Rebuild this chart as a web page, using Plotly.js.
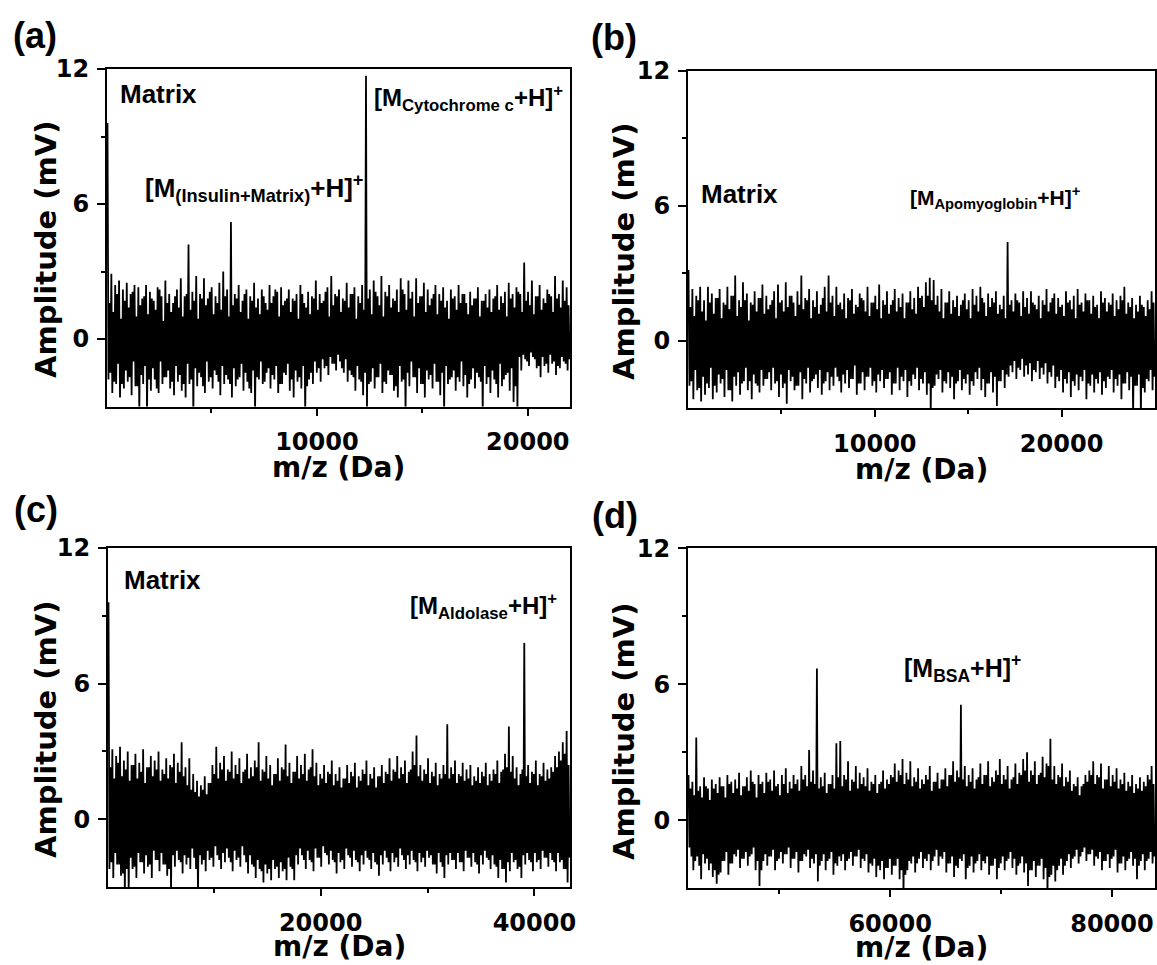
<!DOCTYPE html>
<html>
<head>
<meta charset="utf-8">
<script src="https://cdn.plot.ly/plotly-3.0.1.min.js"></script>
<style>html,body{margin:0;padding:0;background:#fff;}#chart{width:1157px;height:965px;}</style>
</head>
<body>
<div id="chart"></div>
<script>
// ---------- data ----------
// m/z axis ranges (Da)
const rangeA = [50, 22000];
const rangeB = [0, 25000];
const rangeC = [100, 43330];
const rangeD = [41770, 83880];
const yRange = [-3, 12];

// tick values & labels
const ticksA = [10000, 20000], minorA = [5000, 15000];
const ticksB = [10000, 20000], minorB = [5000, 15000];
const ticksC = [20000, 40000], minorC = [10000, 30000];
const ticksD = [60000, 80000], minorD = [50000, 70000];
const yTicks = [0, 6, 12], yMinor = [3, 9];

// spectrum (a): main maxima / minima and the smaller in-between maxima / minima (mV)
const hiA = [9.6,2.9,2.4,2.6,2.2,2.5,2.0,2.4,2.3,1.8,2.4,2.1,1.7,2.3,1.9,2.6,2.0,1.6,2.2,2.7,1.9,4.2,2.1,2.8,2.0,2.7,1.8,2.3,1.9,2.5,
 3.0,2.2,5.2,2.0,2.4,1.7,2.2,1.9,2.5,1.8,2.2,1.6,2.4,1.9,2.1,2.3,1.7,2.2,1.8,2.0,2.4,1.6,2.1,1.9,2.6,2.0,1.7,2.3,2.8,2.0,
 2.2,1.8,2.5,2.0,2.3,1.9,2.4,11.7,2.2,2.6,1.9,2.8,2.1,2.4,1.8,2.2,2.7,2.0,2.6,2.1,2.7,1.9,2.5,2.2,1.8,2.4,2.0,2.3,1.7,2.2,
 1.9,2.4,2.0,1.6,2.1,1.8,2.3,1.7,2.0,2.2,1.8,2.4,1.9,2.1,2.5,2.0,2.3,2.0,3.4,2.1,2.6,1.9,2.4,1.8,2.2,1.9,2.8,2.0,2.6,2.3];
const loA = [-1.8,-2.4,-2.0,-2.6,-2.2,-1.9,-2.5,-2.1,-3.3,-2.0,-3.3,-2.3,-1.8,-2.4,-2.0,-1.7,-2.2,-2.5,-1.9,-2.3,-2.6,-2.0,-3.3,-2.1,-1.7,-2.4,-1.9,-2.2,-1.6,-2.5,
 -2.0,-1.8,-2.6,-2.1,-1.7,-2.3,-1.9,-2.4,-3.3,-1.8,-2.0,-1.5,-2.2,-1.8,-2.4,-2.0,-1.6,-2.3,-2.6,-1.9,-2.2,-3.3,-1.8,-2.0,-1.5,-1.9,-1.3,-1.6,-1.1,-1.4,
 -1.0,-1.5,-1.9,-1.6,-2.3,-1.8,-2.5,-3.2,-1.9,-2.2,-1.7,-2.4,-2.0,-1.6,-2.3,-2.6,-1.9,-3.3,-2.1,-1.7,-2.4,-2.0,-2.6,-1.8,-2.2,-1.9,-2.5,-3.3,-2.0,-1.7,
 -2.3,-1.9,-2.1,-2.6,-1.8,-2.2,-1.7,-3.3,-2.0,-2.4,-1.8,-2.6,-2.1,-1.6,-2.3,-2.8,-3.2,-1.4,-0.9,-1.2,-0.8,-1.3,-1.7,-1.2,-1.5,-1.1,-1.6,-1.3,-1.0,-1.4];
const hi2A = [1.6,1.2,2.0,0.9,1.7,1.4,2.1,1.0,1.5,1.9,1.1,1.8,1.3,2.2,0.8,1.6,1.2,1.9,1.4,1.0,2.0,1.3,1.7,0.9,1.8,1.5,2.1,1.1,1.6,1.3,
 1.9,1.0,1.5,1.8,1.2,2.0,0.9,1.7,1.4,1.1,1.9,1.3,1.6,2.2,1.0,1.5,1.8,1.2,1.7,0.9,2.0,1.4,1.1,1.8,1.3,1.6,2.1,1.0,1.5,1.9,
 1.2,1.7,1.4,2.0,0.9,1.6,1.3,1.8,1.1,2.1,1.5,1.0,1.9,1.4,1.7,1.2,2.2,1.3,1.8,1.0,1.6,1.9,1.2,1.5,2.0,1.1,1.7,1.4,0.9,1.8,
 1.3,1.6,2.0,1.1,1.5,1.8,1.0,1.7,1.4,1.2,1.9,1.3,1.6,1.0,1.8,1.4,2.1,1.2,1.7,1.5,1.1,1.9,1.3,1.6,2.0,1.2,1.8,1.4,1.7,1.5];
const lo2A = [-1.5,-1.9,-1.1,-2.0,-1.4,-1.7,-1.0,-2.1,-1.6,-1.2,-1.8,-1.3,-2.2,-1.0,-1.7,-1.4,-1.9,-1.2,-1.6,-2.0,-1.1,-1.8,-1.3,-1.5,-2.1,-1.0,-1.7,-1.4,-1.9,-1.2,
 -1.6,-2.0,-1.3,-1.8,-1.1,-1.5,-2.2,-1.4,-1.7,-1.0,-1.9,-1.3,-1.6,-1.2,-2.0,-1.5,-1.1,-1.8,-1.4,-1.7,-1.2,-2.1,-1.5,-1.0,-1.3,-0.9,-1.2,-0.8,-1.1,-0.7,
 -1.3,-0.9,-1.4,-1.7,-1.2,-1.9,-1.5,-2.0,-1.3,-1.7,-1.1,-1.9,-1.4,-1.6,-2.1,-1.2,-1.8,-1.5,-1.0,-1.7,-1.3,-2.0,-1.4,-1.6,-1.1,-1.9,-1.5,-1.2,-1.8,-1.4,
 -1.7,-1.0,-1.6,-2.0,-1.3,-1.5,-1.9,-1.2,-1.7,-1.4,-2.0,-1.1,-1.8,-1.5,-1.3,-2.1,-0.8,-0.7,-1.0,-0.6,-0.9,-1.2,-0.8,-1.1,-0.7,-1.0,-1.2,-0.8,-1.1,-0.9];

// spectrum (b)
const hiB = [3.15,2.3,2.0,2.4,1.8,2.4,2.1,1.9,2.3,1.7,2.4,2.0,2.9,1.8,2.6,2.1,1.7,2.2,1.9,2.5,2.0,1.6,2.2,2.5,1.8,2.6,2.0,1.7,2.2,2.9,
 1.9,2.3,1.8,2.2,1.6,2.4,2.9,2.0,2.4,1.7,2.1,1.9,2.3,1.6,2.1,1.8,2.4,1.7,2.0,2.5,1.8,2.2,1.6,2.3,1.9,2.1,1.7,2.2,1.9,2.4,
 2.0,2.6,2.8,2.7,2.0,2.3,1.7,2.2,1.8,2.0,1.6,2.1,1.8,2.3,2.0,2.4,1.7,2.1,1.9,2.2,1.6,2.0,4.4,1.8,2.1,1.7,2.2,1.9,2.2,1.6,
 2.0,1.8,2.3,1.7,2.1,1.9,1.6,2.2,1.8,2.0,2.3,1.7,2.1,1.8,2.0,1.6,2.2,1.9,1.7,2.1,1.8,2.0,2.4,1.7,1.9,1.6,2.0,1.5,1.8,2.2];
const loB = [-2.0,-2.6,-2.2,-2.7,-2.4,-2.1,-2.6,-2.3,-1.9,-2.5,-2.2,-2.7,-2.0,-2.4,-1.8,-2.2,-2.6,-1.9,-2.3,-2.0,-1.7,-2.2,-1.9,-2.5,-2.1,-2.8,-1.8,-2.2,-2.0,-2.6,
 -1.9,-2.3,-1.7,-2.1,-2.4,-1.8,-2.2,-2.0,-1.6,-2.3,-1.9,-2.1,-1.7,-2.4,-1.9,-2.2,-1.6,-2.0,-2.3,-1.8,-2.1,-1.7,-2.4,-1.9,-2.2,-1.8,-2.5,-2.0,-1.7,-2.2,
 -1.9,-2.4,-3.3,-2.0,-1.7,-2.3,-1.9,-2.1,-2.6,-1.8,-2.2,-1.9,-2.4,-2.0,-1.7,-2.2,-2.5,-1.9,-2.3,-2.9,-1.8,-2.1,-1.6,-1.4,-1.7,-1.3,-1.6,-1.5,-1.8,-1.4,
 -1.7,-1.5,-1.9,-1.6,-2.1,-1.8,-2.3,-1.9,-2.5,-2.0,-2.2,-1.8,-2.6,-2.0,-2.3,-1.9,-2.4,-2.1,-1.7,-2.3,-2.0,-2.6,-1.9,-2.2,-3.3,-2.0,-3.3,-2.3,-1.8,-2.2];
const hi2B = [1.5,1.1,1.8,1.3,0.9,1.7,1.2,1.9,1.0,1.6,1.4,2.0,1.1,1.5,1.8,0.9,1.6,1.3,1.9,1.2,1.4,1.8,1.0,1.7,1.3,1.5,2.0,1.1,1.6,1.4,
 1.8,1.0,1.5,1.2,1.9,1.3,1.7,1.1,1.6,1.4,1.0,1.8,1.2,1.5,1.9,1.3,1.1,1.7,1.4,1.0,1.6,1.2,1.8,1.3,1.5,1.0,1.7,1.4,1.2,1.9,
 1.5,2.0,1.8,1.6,1.3,1.0,1.7,1.2,1.5,1.1,1.8,1.4,1.0,1.6,1.3,1.9,1.1,1.5,1.7,1.2,1.4,1.0,1.6,1.3,1.8,1.1,1.5,1.2,1.7,1.4,
 1.0,1.6,1.3,1.9,1.2,1.5,1.1,1.7,1.4,1.0,1.6,1.3,1.8,1.2,1.5,1.0,1.7,1.3,1.6,1.1,1.4,1.8,1.2,1.5,1.0,1.3,1.6,1.1,1.4,1.7];
const lo2B = [-1.8,-1.3,-2.1,-1.6,-1.9,-1.2,-2.0,-1.5,-1.7,-1.3,-2.2,-1.6,-1.4,-1.9,-1.2,-1.8,-1.5,-2.0,-1.3,-1.7,-1.4,-1.2,-1.8,-1.5,-1.9,-1.3,-1.6,-2.0,-1.4,-1.7,
 -1.2,-1.8,-1.5,-1.3,-1.9,-1.4,-1.6,-1.2,-1.8,-1.5,-1.3,-1.7,-1.1,-1.9,-1.4,-1.6,-1.2,-1.8,-1.5,-1.3,-1.7,-1.4,-1.9,-1.2,-1.6,-1.3,-1.8,-1.5,-1.2,-1.7,
 -1.4,-1.9,-2.1,-1.5,-1.3,-1.8,-1.4,-1.6,-1.9,-1.3,-1.7,-1.5,-1.8,-1.4,-1.2,-1.7,-1.9,-1.4,-1.6,-1.8,-1.3,-1.5,-1.1,-0.9,-1.2,-0.8,-1.1,-1.0,-1.3,-0.9,
 -1.2,-1.0,-1.4,-1.1,-1.6,-1.3,-1.7,-1.4,-1.8,-1.5,-1.6,-1.3,-1.9,-1.5,-1.7,-1.4,-1.8,-1.6,-1.3,-1.7,-1.5,-1.9,-1.4,-1.6,-2.0,-1.5,-2.1,-1.7,-1.3,-1.6];

// spectrum (c)
const hiC = [9.6,3.1,2.8,3.2,2.6,3.0,2.4,2.9,2.5,3.1,2.3,2.8,2.6,3.0,2.2,2.7,2.4,2.9,2.5,3.4,2.3,2.7,2.0,1.7,1.5,1.9,1.6,2.4,3.2,2.5,
 2.8,2.2,3.0,2.4,2.7,2.1,2.9,2.3,2.6,3.4,2.2,2.8,2.4,2.0,2.7,2.3,3.3,2.5,2.1,2.8,2.4,2.9,2.2,3.1,2.5,2.0,2.4,2.1,2.6,2.0,
 2.3,1.8,2.4,2.1,2.5,1.9,2.2,2.6,2.0,2.3,1.9,2.4,2.1,2.7,2.2,2.8,2.3,2.6,2.1,3.0,3.7,2.4,2.2,2.7,2.1,2.5,2.0,2.4,4.2,2.3,
 2.6,2.0,2.5,2.2,2.4,1.9,2.3,2.1,2.5,2.0,2.2,2.6,2.1,2.9,4.1,2.8,2.3,2.0,7.8,2.4,2.1,2.6,2.0,2.5,2.2,2.3,2.8,3.0,3.4,3.9];
const loC = [-2.2,-2.6,-2.0,-2.5,-3.3,-3.3,-2.2,-2.6,-1.9,-2.4,-2.1,-2.6,-1.8,-2.3,-2.0,-2.5,-3.3,-2.1,-1.8,-2.4,-2.0,-2.2,-1.7,-3.3,-2.0,-2.3,-1.8,-2.1,-1.6,-2.2,
 -1.9,-1.7,-2.3,-1.8,-2.1,-1.6,-2.4,-2.0,-2.6,-2.2,-2.8,-2.4,-2.7,-2.2,-2.6,-2.3,-2.7,-2.1,-2.7,-2.0,-1.6,-2.2,-1.8,-2.3,-1.7,-2.1,-1.5,-2.0,-1.8,-2.4,
 -1.9,-2.2,-1.6,-2.1,-1.8,-2.3,-2.0,-1.7,-2.2,-1.9,-2.5,-2.0,-1.7,-2.3,-1.9,-2.1,-1.6,-2.2,-2.0,-1.8,-2.3,-1.9,-2.1,-1.7,-2.0,-2.4,-1.9,-2.6,-2.0,-1.8,
 -2.2,-1.9,-2.3,-1.7,-2.1,-1.9,-2.4,-2.0,-1.7,-2.2,-2.0,-2.6,-2.2,-2.8,-2.3,-1.9,-2.2,-2.6,-2.0,-1.8,-2.3,-1.9,-2.2,-1.7,-2.1,-1.8,-2.3,-1.9,-2.2,-2.8];
const hi2C = [2.3,1.8,2.5,1.9,2.2,1.7,2.4,1.8,2.1,1.6,2.3,1.9,2.2,1.7,2.0,1.8,2.3,1.6,2.1,1.9,1.5,1.3,1.2,1.0,1.3,1.1,1.6,2.0,1.8,2.2,
 1.7,2.1,1.8,2.0,1.6,2.2,1.8,1.9,2.3,1.7,2.1,1.8,1.5,2.0,1.7,2.2,1.9,1.6,2.1,1.8,2.0,1.7,2.3,1.9,1.5,1.8,1.6,2.0,1.5,1.7,
 1.4,1.8,1.6,1.9,1.4,1.7,2.0,1.5,1.8,1.4,1.9,1.6,2.0,1.7,2.1,1.8,2.0,1.6,2.2,2.4,1.9,1.7,2.0,1.6,1.9,1.5,1.8,2.0,1.8,2.0,
 1.6,1.9,1.7,1.8,1.5,1.7,1.6,1.9,1.5,1.7,2.0,1.6,2.2,2.3,2.1,1.8,1.5,2.2,1.9,1.6,2.0,1.5,1.9,1.7,1.8,2.1,2.3,2.6,2.9,2.4];
const lo2C = [-1.9,-1.5,-2.0,-2.4,-2.2,-1.7,-2.1,-1.5,-1.9,-1.6,-2.0,-1.4,-1.8,-1.5,-2.0,-2.2,-1.6,-1.4,-1.9,-1.6,-1.7,-1.3,-2.2,-1.6,-1.8,-1.4,-1.7,-1.2,-1.8,-1.5,
 -1.3,-1.9,-1.4,-1.7,-1.2,-1.9,-1.6,-2.1,-1.8,-2.3,-2.0,-2.2,-1.8,-2.1,-1.9,-2.2,-1.7,-2.2,-1.6,-1.3,-1.8,-1.4,-1.9,-1.3,-1.7,-1.2,-1.6,-1.4,-1.9,-1.5,
 -1.8,-1.3,-1.7,-1.4,-1.9,-1.6,-1.4,-1.8,-1.5,-2.0,-1.6,-1.4,-1.9,-1.5,-1.7,-1.3,-1.8,-1.6,-1.4,-1.9,-1.5,-1.7,-1.4,-1.6,-2.0,-1.5,-2.1,-1.6,-1.5,-1.8,
 -1.5,-1.9,-1.4,-1.7,-1.5,-2.0,-1.6,-1.4,-1.8,-1.6,-2.1,-1.8,-2.2,-1.9,-1.5,-1.8,-2.1,-1.6,-1.5,-1.9,-1.5,-1.8,-1.4,-1.7,-1.5,-1.9,-1.5,-1.8,-2.2,-1.7];

// spectrum (d)
const hiD = [2.0,1.7,3.65,1.5,1.9,1.4,1.8,1.6,1.9,1.5,2.0,1.7,1.8,2.1,1.5,1.9,2.2,1.6,2.0,1.7,2.1,1.8,2.2,1.6,2.0,2.3,1.7,2.0,1.8,2.4,
 2.0,3.1,2.2,6.7,1.9,2.1,1.6,2.0,3.4,3.5,2.0,2.6,1.8,2.4,2.1,1.9,2.3,1.7,2.0,1.6,2.2,1.8,2.0,2.5,2.2,2.7,2.1,2.6,1.9,2.3,
 1.8,2.0,2.4,1.7,2.1,1.8,2.3,2.0,2.6,2.2,5.1,2.4,2.0,2.3,1.8,2.5,2.0,2.6,1.9,2.2,2.7,2.0,2.4,1.8,2.5,2.1,2.7,3.0,2.2,2.6,
 2.0,2.8,2.5,3.6,2.4,2.0,2.5,1.9,2.2,1.6,1.9,1.5,2.0,2.2,2.6,2.0,2.5,1.8,2.4,2.0,2.3,1.8,2.1,1.7,2.0,1.6,1.9,1.7,2.0,2.4];
const loD = [-1.2,-2.2,-1.6,-2.6,-1.9,-2.2,-2.5,-2.8,-2.3,-1.8,-2.4,-1.9,-1.6,-2.1,-1.7,-2.0,-1.5,-2.2,-2.9,-1.8,-2.0,-1.6,-2.2,-1.7,-1.9,-1.5,-2.1,-1.7,-2.3,-1.8,
 -1.6,-2.1,-1.9,-2.7,-1.8,-2.2,-1.7,-2.4,-2.0,-1.8,-2.2,-1.7,-2.0,-1.6,-2.1,-1.8,-2.3,-2.0,-2.5,-2.2,-2.6,-2.1,-2.4,-2.0,-2.6,-3.3,-2.2,-1.9,-2.3,-1.7,
 -2.1,-1.8,-2.2,-1.6,-2.0,-1.7,-2.3,-1.9,-2.5,-2.1,-1.8,-2.6,-2.0,-2.3,-1.8,-2.2,-1.9,-2.4,-2.0,-2.6,-1.9,-2.2,-1.7,-2.1,-2.4,-1.9,-2.3,-2.9,-2.2,-2.5,
 -2.0,-2.6,-3.3,-2.4,-2.7,-2.0,-2.4,-1.8,-2.1,-1.6,-1.9,-1.4,-1.8,-1.5,-2.0,-1.7,-2.2,-1.8,-2.1,-1.6,-2.3,-1.9,-2.2,-1.7,-2.0,-2.6,-1.8,-2.2,-1.7,-1.9];
const hi2D = [1.4,1.1,1.3,1.0,1.5,0.9,1.4,1.2,1.5,1.0,1.6,1.2,1.4,1.1,1.5,1.3,1.7,1.0,1.6,1.2,1.7,1.3,1.5,1.1,1.6,1.2,1.4,1.6,1.3,1.8,
 1.5,1.7,1.6,1.4,1.5,1.2,1.6,1.4,1.9,1.5,1.8,1.3,1.7,1.4,1.6,1.5,1.3,1.6,1.2,1.7,1.4,1.6,1.9,1.7,2.0,1.6,1.8,1.5,1.7,1.4,
 1.6,1.8,1.3,1.7,1.4,1.8,1.5,2.0,1.7,1.9,1.8,1.5,1.7,1.4,1.9,1.6,2.0,1.5,1.7,2.0,1.6,1.8,1.4,1.9,1.6,2.0,2.2,1.7,2.0,1.6,
 2.1,1.9,2.4,1.8,1.6,1.9,1.5,1.7,1.3,1.5,1.1,1.6,1.7,2.0,1.6,1.9,1.4,1.8,1.5,1.7,1.4,1.6,1.3,1.5,1.2,1.4,1.3,1.5,1.8,1.6];
const lo2D = [-1.6,-1.8,-2.0,-1.5,-1.7,-1.9,-2.2,-2.4,-1.8,-1.4,-1.9,-1.5,-1.3,-1.7,-1.4,-1.6,-1.2,-1.8,-2.2,-1.5,-1.6,-1.3,-1.8,-1.4,-1.5,-1.2,-1.7,-1.4,-1.8,-1.5,
 -1.3,-1.7,-1.5,-2.0,-1.5,-1.8,-1.4,-1.9,-1.6,-1.5,-1.8,-1.4,-1.6,-1.3,-1.7,-1.5,-1.9,-1.7,-2.0,-1.8,-2.1,-1.7,-2.0,-1.7,-2.2,-2.4,-1.8,-1.6,-1.9,-1.4,
 -1.7,-1.5,-1.8,-1.3,-1.6,-1.4,-1.9,-1.6,-2.0,-1.7,-1.5,-2.1,-1.6,-1.9,-1.5,-1.8,-1.6,-2.0,-1.7,-2.1,-1.6,-1.8,-1.4,-1.7,-2.0,-1.6,-1.9,-2.2,-1.8,-2.0,
 -1.7,-2.1,-2.5,-2.0,-2.2,-1.7,-2.0,-1.5,-1.7,-1.3,-1.6,-1.2,-1.5,-1.3,-1.6,-1.4,-1.8,-1.5,-1.7,-1.3,-1.9,-1.6,-1.8,-1.4,-1.7,-2.0,-1.5,-1.8,-1.4,-1.6];

// annotation texts
const panelLabels = ['(a)', '(b)', '(c)', '(d)'];
const yTitle = 'Amplitude (mV)';
const xTitle = 'm/z (Da)';

// ---------- build ----------
const W = 1157, H = 965;
const px = v => v / W;
const py = v => 1 - v / H;

function spectrum(hi, lo, hi2, lo2, range, xa, ya) {
  const y = [];
  for (let i = 0; i < hi.length; i++) {
    y.push(hi[i], lo[i]);
    if (hi2[i] !== undefined && lo2[i] !== undefined) y.push(hi2[i], lo2[i]);
  }
  const dx = (range[1] - range[0]) / y.length;
  return { type: 'scatter', mode: 'lines', x0: range[0] + dx / 2, dx: dx, y: y,
           xaxis: xa, yaxis: ya, line: { color: '#000', width: 1.8 }, hoverinfo: 'skip' };
}

const tickFont = { family: 'DejaVu Sans', size: 24, color: '#000', weight: 'bold' };

function xAx(range, major, minor, dom, anchor) {
  return { domain: dom, anchor: anchor, range: range, tickmode: 'array', tickvals: major,
    ticktext: major.map(String), ticks: 'outside', ticklen: 7, tickwidth: 2, tickcolor: '#000',
    showline: true, linewidth: 2, linecolor: '#000', mirror: true, showgrid: false, zeroline: false,
    tickfont: tickFont, ticklabelstandoff: 6,
    minor: { tickmode: 'array', tickvals: minor, ticks: 'outside', ticklen: 4, tickwidth: 2, tickcolor: '#000', showgrid: false } };
}
function yAx(dom, anchor) {
  return { domain: dom, anchor: anchor, range: yRange, tickmode: 'array', tickvals: yTicks,
    ticktext: yTicks.map(String), ticks: 'outside', ticklen: 8, tickwidth: 2, tickcolor: '#000',
    showline: true, linewidth: 2, linecolor: '#000', mirror: true, showgrid: false, zeroline: false,
    tickfont: tickFont, ticklabelstandoff: 3,
    minor: { tickmode: 'array', tickvals: yMinor, ticks: 'outside', ticklen: 4, tickwidth: 2, tickcolor: '#000', showgrid: false } };
}

const boxes = {
  a: { x: [107, 570], y: [69, 406.5] },
  b: { x: [688, 1155], y: [71, 408.3] },
  c: { x: [108, 570], y: [548, 887] },
  d: { x: [688, 1155], y: [548.3, 888.3] }
};
const dx = b => [px(b.x[0]), px(b.x[1])];
const dy = b => [py(b.y[1]), py(b.y[0])];

const data = [
  spectrum(hiA, loA, hi2A, lo2A, rangeA, 'x', 'y'),
  spectrum(hiB, loB, hi2B, lo2B, rangeB, 'x2', 'y2'),
  spectrum(hiC, loC, hi2C, lo2C, rangeC, 'x3', 'y3'),
  spectrum(hiD, loD, hi2D, lo2D, rangeD, 'x4', 'y4')
];

const annFont = s => ({ family: 'Liberation Sans, Arial, sans-serif', size: s, color: '#000', weight: 'bold' });
const axFont = s => ({ family: 'DejaVu Sans', size: s, color: '#000', weight: 'bold' });
function txt(text, x, y, size, xanchor, font) {
  return { text: text, xref: 'paper', yref: 'paper', x: px(x), y: py(y), xanchor: xanchor || 'left',
           yanchor: 'middle', showarrow: false, font: font || annFont(size) };
}

const annotations = [
  // panel letters
  txt(panelLabels[0], 35, 35, 36, 'center'),
  txt(panelLabels[1], 614, 37, 36, 'center'),
  txt(panelLabels[2], 36, 509, 36, 'center'),
  txt(panelLabels[3], 615, 515, 36, 'center'),
  // peak labels
  txt('Matrix', 118, 94, 26),
  txt('[M<sub>(Insulin+Matrix)</sub>+H]<sup>+</sup>', 143, 188, 26),
  txt('[M<sub>Cytochrome c</sub>+H]<sup>+</sup>', 372, 98, 24),
  txt('Matrix', 699, 194, 26),
  txt('[M<sub>Apomyoglobin</sub>+H]<sup>+</sup>', 908, 197, 21),
  txt('Matrix', 122, 580, 26),
  txt('[M<sub>Aldolase</sub>+H]<sup>+</sup>', 408, 606, 24),
  txt('[M<sub>BSA</sub>+H]<sup>+</sup>', 902, 668, 25),
  // axis titles
  txt(xTitle, 338.5, 467, 28, 'center', axFont(28)),
  txt(xTitle, 921.5, 469, 28, 'center', axFont(28)),
  txt(xTitle, 339, 946, 28, 'center', axFont(28)),
  txt(xTitle, 921.5, 947, 28, 'center', axFont(28)),
  Object.assign(txt(yTitle, 46, 249, 29, 'center', axFont(29)), { textangle: -90 }),
  Object.assign(txt(yTitle, 624, 251, 29, 'center', axFont(29)), { textangle: -90 }),
  Object.assign(txt(yTitle, 46, 729, 29, 'center', axFont(29)), { textangle: -90 }),
  Object.assign(txt(yTitle, 624, 731, 29, 'center', axFont(29)), { textangle: -90 })
];

const layout = {
  width: W, height: H, margin: { l: 0, r: 0, t: 0, b: 0 }, showlegend: false,
  paper_bgcolor: '#fff', plot_bgcolor: '#fff',
  xaxis: xAx(rangeA, ticksA, minorA, dx(boxes.a), 'y'),
  yaxis: yAx(dy(boxes.a), 'x'),
  xaxis2: xAx(rangeB, ticksB, minorB, dx(boxes.b), 'y2'),
  yaxis2: yAx(dy(boxes.b), 'x2'),
  xaxis3: xAx(rangeC, ticksC, minorC, dx(boxes.c), 'y3'),
  yaxis3: yAx(dy(boxes.c), 'x3'),
  xaxis4: xAx(rangeD, ticksD, minorD, dx(boxes.d), 'y4'),
  yaxis4: yAx(dy(boxes.d), 'x4'),
  annotations: annotations
};

Plotly.newPlot('chart', data, layout, { staticPlot: true, displayModeBar: false });
</script>
</body>
</html>
